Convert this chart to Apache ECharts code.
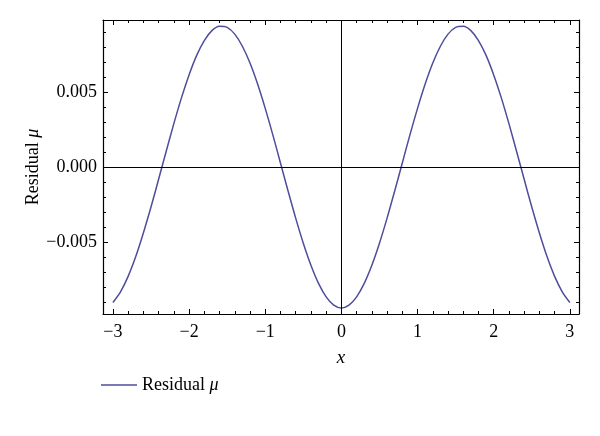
<!DOCTYPE html>
<html>
<head>
<meta charset="utf-8">
<script src="https://cdn.jsdelivr.net/npm/echarts@6/dist/echarts.min.js"></script>
<style>
  html, body { margin: 0; padding: 0; background: #fff; }
  #chart { width: 600px; height: 436px; }
</style>
</head>
<body>
<div id="chart"></div>
<script>
// x 取样点 (步长 0.1)
const xValues = [
  -3.0, -2.9, -2.8, -2.7, -2.6, -2.5, -2.4, -2.3, -2.2, -2.1,
  -2.0, -1.9, -1.8, -1.7, -1.6, -1.5, -1.4, -1.3, -1.2, -1.1,
  -1.0, -0.9, -0.8, -0.7, -0.6, -0.5, -0.4, -0.3, -0.2, -0.1,
  0.0, 0.1, 0.2, 0.3, 0.4, 0.5, 0.6, 0.7, 0.8, 0.9,
  1.0, 1.1, 1.2, 1.3, 1.4, 1.5, 1.6, 1.7, 1.8, 1.9,
  2.0, 2.1, 2.2, 2.3, 2.4, 2.5, 2.6, 2.7, 2.8, 2.9, 3.0,
]
// 残差值
const residualValues = [
  -0.00903, -0.00832, -0.00729, -0.00597, -0.00440, -0.00267, -0.00082, 0.00105, 0.00289, 0.00461,
  0.00614, 0.00744, 0.00843, 0.00909, 0.00938, 0.00931, 0.00886, 0.00805, 0.00693, 0.00553,
  0.00391, 0.00214, 0.00027, -0.00160, -0.00341, -0.00508, -0.00655, -0.00776, -0.00866, -0.00921,
  -0.00940, -0.00921, -0.00866, -0.00776, -0.00655, -0.00508, -0.00341, -0.00160, 0.00027, 0.00214,
  0.00391, 0.00553, 0.00693, 0.00805, 0.00886, 0.00931, 0.00938, 0.00909, 0.00843, 0.00744,
  0.00614, 0.00461, 0.00289, 0.00105, -0.00082, -0.00267, -0.00440, -0.00597, -0.00729, -0.00832, -0.00903,
]
// 刻度
const xMajorTicks = [-3, -2, -1, 0, 1, 2, 3]
const xMinorTicks = [
  -2.8, -2.6, -2.4, -2.2, -1.8, -1.6, -1.4, -1.2, -0.8, -0.6, -0.4, -0.2,
  0.2, 0.4, 0.6, 0.8, 1.2, 1.4, 1.6, 1.8, 2.2, 2.4, 2.6, 2.8,
]
const yMajorTicks = [-0.005, 0, 0.005]
const yMinorTicks = [
  -0.009, -0.008, -0.007, -0.006, -0.004, -0.003, -0.002, -0.001,
  0.001, 0.002, 0.003, 0.004, 0.006, 0.007, 0.008, 0.009,
]
const xRange = [-3.13, 3.12]
const yRange = [-0.0098, 0.0098]

const FONT = 'Liberation Serif'
const minus = (s) => s.replace('-', '\u2212')

const myChart = echarts.init(document.getElementById('chart'))

const frameLine = { show: true, onZero: false, lineStyle: { color: '#000', width: 1.2 } }
const noLine = { show: false, onZero: false }

// 主刻度 / 次刻度 轴的工厂
const makeX = (position, ticks, len, withLine, withLabel) => ({
  type: 'value',
  position: position,
  min: xRange[0],
  max: xRange[1],
  axisLine: withLine ? frameLine : noLine,
  axisTick: { show: true, inside: true, length: len, customValues: ticks, lineStyle: { color: '#000', width: 1 } },
  axisLabel: withLabel
    ? { show: true, customValues: ticks, margin: 9, color: '#000', fontFamily: FONT, fontSize: 18, formatter: (v) => minus(String(v)) }
    : { show: false },
  splitLine: { show: false },
})
const makeY = (position, ticks, len, withLine, withLabel) => ({
  type: 'value',
  position: position,
  min: yRange[0],
  max: yRange[1],
  axisLine: withLine ? frameLine : noLine,
  axisTick: { show: true, inside: true, length: len, customValues: ticks, lineStyle: { color: '#000', width: 1 } },
  axisLabel: withLabel
    ? { show: true, customValues: ticks, margin: 6, color: '#000', fontFamily: FONT, fontSize: 18, formatter: (v) => minus(v.toFixed(3)) }
    : { show: false },
  splitLine: { show: false },
})

const xMain = makeX('bottom', xMajorTicks, 5, true, true)
xMain.name = 'x'
xMain.nameLocation = 'middle'
xMain.nameGap = 34
xMain.nameMoveOverlap = false
xMain.nameTextStyle = { color: '#000', fontFamily: FONT, fontSize: 19, fontStyle: 'italic' }

const yMain = makeY('left', yMajorTicks, 5, true, true)
yMain.name = '{a|Residual }{b|μ}'
yMain.nameLocation = 'middle'
yMain.nameGap = 61
yMain.nameMoveOverlap = false
yMain.nameTextStyle = {
  color: '#000',
  rich: {
    a: { fontFamily: FONT, fontSize: 18, color: '#000' },
    b: { fontFamily: FONT, fontSize: 18, fontStyle: 'italic', color: '#000' },
  },
}

const options = {
  animation: false,
  backgroundColor: '#fff',
  grid: { left: 103, right: 21, top: 20, bottom: 122, containLabel: false },
  legend: {
    left: 96,
    top: 371,
    icon: 'rect',
    itemWidth: 36,
    itemHeight: 1.5,
    itemGap: 10,
    formatter: () => '{a|Residual }{b|μ}',
    textStyle: {
      rich: {
        a: { fontFamily: FONT, fontSize: 18, color: '#000' },
        b: { fontFamily: FONT, fontSize: 18, fontStyle: 'italic', color: '#000' },
      },
    },
    data: ['Residual μ'],
  },
  xAxis: [
    xMain,
    makeX('bottom', xMinorTicks, 3, false, false),
    makeX('top', xMajorTicks, 5, true, false),
    makeX('top', xMinorTicks, 3, false, false),
  ],
  yAxis: [
    yMain,
    makeY('left', yMinorTicks, 3, false, false),
    makeY('right', yMajorTicks, 5, true, false),
    makeY('right', yMinorTicks, 3, false, false),
  ],
  series: [
    {
      name: 'Residual μ',
      type: 'line',
      xAxisIndex: 0,
      yAxisIndex: 0,
      data: xValues.map((x, i) => [x, residualValues[i]]),
      smooth: 0.3,
      showSymbol: false,
      symbol: 'none',
      lineStyle: { color: '#4d4d9c', width: 1.5 },
      itemStyle: { color: '#4d4d9c' },
      // 零线
      markLine: {
        silent: true,
        symbol: 'none',
        label: { show: false },
        lineStyle: { color: '#000', width: 1, type: 'solid' },
        data: [{ xAxis: 0 }, { yAxis: 0 }],
      },
    },
  ],
}
myChart.setOption(options)
</script>
</body>
</html>
